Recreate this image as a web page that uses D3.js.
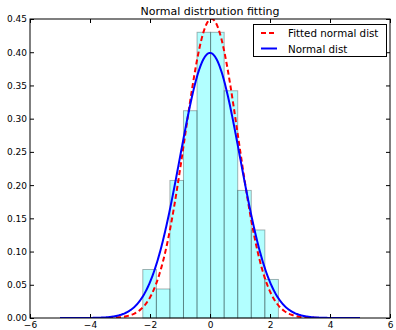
<!DOCTYPE html>
<html lang="en">
<head>
	<meta charset="UTF-8"/>
	<title>Normal distrbution fitting</title>
	<script src="https://d3js.org/d3.v7.min.js"></script>
	<style>
		body { margin: 0; background: #fff; }
		text { font-family: "DejaVu Sans", sans-serif; fill: #000; }
	</style>
</head>
<body>
	<script>
	// ***data***
		var binEdges = [-2.24, -1.788, -1.336, -0.884, -0.432, 0.02, 0.472, 0.924, 1.376, 1.828, 2.28];
		var densities = [0.073, 0.0437, 0.207, 0.312, 0.43, 0.43, 0.342, 0.192, 0.1325, 0.058];
		var xTicks = [-6, -4, -2, 0, 2, 4, 6];
		var yTicks = [0, 0.05, 0.10, 0.15, 0.20, 0.25, 0.30, 0.35, 0.40, 0.45];
		// normal curves: [mean, sigma]
		var fittedParams = [0.05, 0.886];
		var normalParams = [0, 1];
		var curveRange = [-5, 5];
		var legendLabels = ["Fitted normal dist", "Normal dist"];

		var w = 396;
		var h = 330;
		var pLeft = 30, pRight = 390, pTop = 19, pBottom = 318;

		var xScale = d3.scaleLinear().domain([-6, 6]).range([pLeft, pRight]);
		var yScale = d3.scaleLinear().domain([0, 0.45]).range([pBottom, pTop]);

		function pdf(p) {
			return function(x) {
				var z = (x - p[0]) / p[1];
				return Math.exp(-0.5 * z * z) / (p[1] * Math.sqrt(2 * Math.PI));
			};
		}
		var xs = d3.range(curveRange[0], curveRange[1] + 0.001, 0.02);

		var svg = d3.select("body")
					.append("svg")
					.attr("width", w)
					.attr("height", h);

		svg.append("clipPath").attr("id", "clip")
			.append("rect")
			.attr("x", pLeft).attr("y", pTop)
			.attr("width", pRight - pLeft).attr("height", pBottom - pTop);

		// histogram bars
		svg.append("g").selectAll("rect")
			.data(densities)
			.enter()
			.append("rect")
			.attr("x", function(d, i) { return xScale(binEdges[i]); })
			.attr("y", function(d) { return yScale(d); })
			.attr("width", function(d, i) { return xScale(binEdges[i + 1]) - xScale(binEdges[i]); })
			.attr("height", function(d) { return yScale(0) - yScale(d); })
			.attr("fill", "cyan")
			.attr("fill-opacity", 0.3)
			.attr("stroke", "black")
			.attr("stroke-opacity", 0.3)
			.attr("stroke-width", 1);

		var line = d3.line()
			.x(function(d) { return xScale(d[0]); })
			.y(function(d) { return yScale(d[1]); });

		var curves = svg.append("g").attr("clip-path", "url(#clip)");
		curves.append("path")
			.attr("d", line(xs.map(function(x) { return [x, pdf(fittedParams)(x)]; })))
			.attr("fill", "none")
			.attr("stroke", "red")
			.attr("stroke-width", 2)
			.attr("stroke-dasharray", "5,3");
		curves.append("path")
			.attr("d", line(xs.map(function(x) { return [x, pdf(normalParams)(x)]; })))
			.attr("fill", "none")
			.attr("stroke", "blue")
			.attr("stroke-width", 2);

		// axes with inside ticks on all four sides
		var fmtY = d3.format(".2f");
		var axB = d3.axisBottom(xScale).tickValues(xTicks).tickSizeInner(-4).tickSizeOuter(0).tickPadding(4);
		var axT = d3.axisTop(xScale).tickValues(xTicks).tickSizeInner(-4).tickSizeOuter(0).tickFormat("");
		var axL = d3.axisLeft(yScale).tickValues(yTicks).tickSizeInner(-4).tickSizeOuter(0).tickPadding(3).tickFormat(fmtY);
		var axR = d3.axisRight(yScale).tickValues(yTicks).tickSizeInner(-4).tickSizeOuter(0).tickFormat("");

		var gB = svg.append("g").attr("transform", "translate(0," + pBottom + ")").call(axB);
		var gT = svg.append("g").attr("transform", "translate(0," + pTop + ")").call(axT);
		var gL = svg.append("g").attr("transform", "translate(" + pLeft + ",0)").call(axL);
		var gR = svg.append("g").attr("transform", "translate(" + pRight + ",0)").call(axR);
		[gB, gT, gL, gR].forEach(function(g) {
			g.selectAll("text").attr("font-size", 9).attr("font-family", "DejaVu Sans");
			g.select(".domain").remove();
			g.selectAll("line").attr("stroke", "#000");
		});

		svg.append("rect")
			.attr("x", pLeft).attr("y", pTop)
			.attr("width", pRight - pLeft).attr("height", pBottom - pTop)
			.attr("fill", "none")
			.attr("stroke", "#000")
			.attr("stroke-width", 1);

		svg.append("text")
			.attr("x", (pLeft + pRight) / 2)
			.attr("y", 15)
			.attr("text-anchor", "middle")
			.attr("font-size", 11)
			.text("Normal distrbution fitting");

		// legend
		var lg = svg.append("g");
		lg.append("rect")
			.attr("x", 253.5).attr("y", 24.5)
			.attr("width", 133).attr("height", 32)
			.attr("fill", "#fff")
			.attr("stroke", "#000");
		var styles = [["red", "5,3"], ["blue", null]];
		legendLabels.forEach(function(label, i) {
			var y = 33 + i * 15.5;
			lg.append("line")
				.attr("x1", 261).attr("x2", 277)
				.attr("y1", y).attr("y2", y)
				.attr("stroke", styles[i][0])
				.attr("stroke-width", 2)
				.attr("stroke-dasharray", styles[i][1]);
			lg.append("text")
				.attr("x", 288)
				.attr("y", y + 4)
				.attr("font-size", 10.3)
				.text(label);
		});
	</script>
</body>
</html>
